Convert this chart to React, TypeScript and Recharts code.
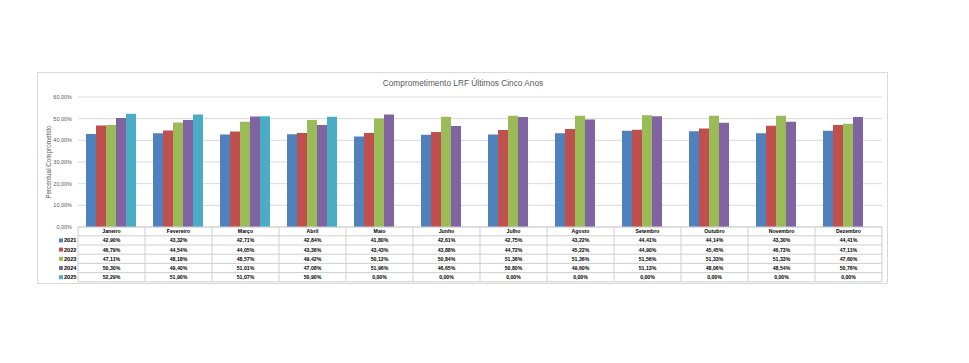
import React from 'react';
import { BarChart, Bar, XAxis, YAxis, CartesianGrid } from 'recharts';

const months = ['Janeiro', 'Fevereiro', 'Março', 'Abril', 'Maio', 'Junho', 'Julho', 'Agosto', 'Setembro', 'Outubro', 'Novembro', 'Dezembro'];
const years = ['2021', '2022', '2023', '2024', '2025'];
const v2021 = [42.90, 43.32, 42.71, 42.84, 41.80, 42.61, 42.75, 43.22, 44.41, 44.14, 43.30, 44.41];
const v2022 = [46.79, 44.54, 44.05, 43.36, 43.43, 43.88, 44.72, 45.22, 44.90, 45.45, 46.73, 47.11];
const v2023 = [47.11, 48.18, 48.57, 49.42, 50.12, 50.84, 51.36, 51.36, 51.56, 51.33, 51.33, 47.60];
const v2024 = [50.30, 49.40, 51.01, 47.08, 51.96, 46.65, 50.80, 49.60, 51.13, 48.06, 48.54, 50.76];
const v2025 = [52.29, 51.90, 51.07, 50.90, 0, 0, 0, 0, 0, 0, 0, 0];
const yTicks = [0, 10, 20, 30, 40, 50, 60];
const colors = ['#4F81BD', '#C0504D', '#9BBB59', '#8064A2', '#4BACC6'];
const seriesValues = [v2021, v2022, v2023, v2024, v2025];

const data = months.map((m, i) => {
  const row: any = { month: m };
  years.forEach((y, k) => {
    row['y' + y] = seriesValues[k][i];
  });
  return row;
});

const fmt = (v: number) => v.toFixed(2).replace('.', ',') + '%';

const W = 969;
const H = 363;
const M = { top: 97, right: 87, bottom: 76, left: 19 };
const Y_W = 59;
const X_H = 60;
const PLOT_W = W - M.left - M.right - Y_W;
const COL_W = PLOT_W / months.length;
const HEAD_H = 8.8;
const ROW_H = 9.2;
const FONT = '"Liberation Sans", Arial, sans-serif';
const LINE = '#cfcfcf';

const TableTick = (props: any) => {
  const { x, y, payload } = props;
  const i = payload.index;
  const left = x - COL_W / 2;
  const right = x + COL_W / 2;
  const top = y;
  const bottom = top + HEAD_H + ROW_H * years.length;
  const els: any[] = [];
  els.push(<line key="vl" x1={left} y1={top} x2={left} y2={bottom} stroke={LINE} strokeWidth={1} />);
  if (i === months.length - 1) {
    els.push(<line key="vr" x1={right} y1={top} x2={right} y2={bottom} stroke={LINE} strokeWidth={1} />);
  }
  for (let k = 0; k <= years.length; k++) {
    const yy = top + HEAD_H + k * ROW_H;
    els.push(<line key={'h' + k} x1={left} y1={yy} x2={right} y2={yy} stroke={LINE} strokeWidth={1} />);
  }
  els.push(
    <text key="head" x={x} y={top + HEAD_H / 2} textAnchor="middle" dominantBaseline="central"
      fontSize={5.2} fontWeight="bold" fill="#000" fontFamily={FONT}>{payload.value}</text>
  );
  years.forEach((yr, k) => {
    const cy = top + HEAD_H + k * ROW_H + ROW_H / 2;
    els.push(
      <text key={'t' + k} x={x} y={cy} textAnchor="middle" dominantBaseline="central"
        fontSize={5.2} fontWeight="bold" fill="#000" fontFamily={FONT}>{fmt(seriesValues[k][i])}</text>
    );
    if (i === 0) {
      els.push(<rect key={'k' + k} x={left - 19} y={cy - 2} width={4} height={4} fill={colors[k]} />);
      els.push(
        <text key={'l' + k} x={left - 14} y={cy} textAnchor="start" dominantBaseline="central"
          fontSize={5.6} fontWeight="bold" fill="#000" fontFamily={FONT}>{yr}</text>
      );
    }
  });
  return <g>{els}</g>;
};

export default function App() {
  return (
    <div style={{ position: 'absolute', left: 0, top: 0, width: W, height: H, background: '#fff' }}>
      <div style={{ position: 'absolute', left: 37, top: 72, width: 851, height: 212, border: '1px solid #d9d9d9', boxSizing: 'border-box' }} />
      <div style={{ position: 'absolute', left: 37, width: 852, top: 77, textAlign: 'center', fontFamily: FONT, fontSize: 8.3, color: '#595959', lineHeight: '12px' }}>
        Comprometimento LRF Últimos Cinco Anos
      </div>
      <div style={{ position: 'absolute', left: 0, top: 0 }}>
        <BarChart width={W} height={H} data={data} margin={M} barCategoryGap={8} barGap={0}>
          <CartesianGrid vertical={false} stroke="#d9d9d9" />
          <XAxis dataKey="month" height={X_H} interval={0} tickLine={false} tickSize={0} tickMargin={0}
            axisLine={{ stroke: LINE }} tick={<TableTick />} />
          <YAxis width={Y_W} domain={[0, 60]} ticks={yTicks} interval={0} tickLine={false} axisLine={false}
            tickSize={0} tickMargin={6} tickFormatter={fmt}
            tick={{ fontSize: 5.5, fill: '#595959', fontFamily: FONT }}
            label={{ value: 'Percentual Comprometido', angle: -90, position: 'center', style: { fontSize: 6.3, fill: '#595959', fontFamily: FONT } }} />
          {years.map((yr, k) => (
            <Bar key={yr} dataKey={'y' + yr} fill={colors[k]} isAnimationActive={false} />
          ))}
        </BarChart>
      </div>
    </div>
  );
}
